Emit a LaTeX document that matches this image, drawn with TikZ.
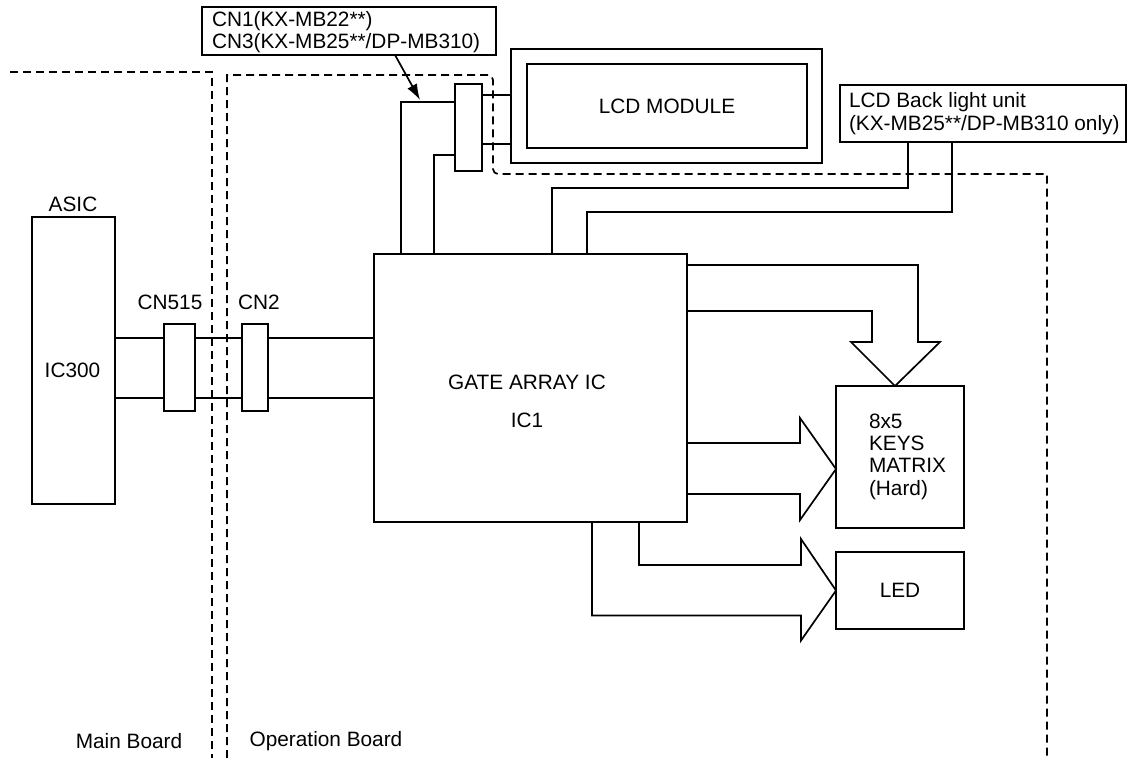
\documentclass[tikz,border=0pt]{standalone}
\usepackage{fontspec}
\setmainfont{Liberation Sans}
\usetikzlibrary{arrows.meta}
\begin{document}
\begin{tikzpicture}[x=1pt,y=-1pt,
  every node/.style={font=\fontsize{20.8}{22.3}\selectfont, inner sep=0pt, outer sep=0pt},
  box/.style={draw, line width=1.7pt, rectangle},
  wire/.style={line width=1.7pt},
  bnd/.style={line width=1.7pt, dash pattern=on 8pt off 5pt},
  lbl/.style={align=left, anchor=west}]
\useasboundingbox (0,0) rectangle (1128,758);

% board boundaries
\draw[bnd] (10,72) -- (212,72) -- (212,758);
\draw[bnd] (227,758) -- (227,75) -- (480,75) [rounded corners=5pt] -- (493,75) -- (493,174) -- (505,174) [sharp corners] -- (1047,174) -- (1047,758);

% boxes
\node[box, minimum width=83pt, minimum height=287pt] (asic) at (73.5,360.5) {};
\node (asiclbl) at (73,204) {ASIC};
\node (ic300) at (72.5,370) {IC300};
\node[box, minimum width=31pt, minimum height=87pt] (cn515) at (179.5,367.5) {};
\node[box, minimum width=26pt, minimum height=87pt] (cn2) at (255,367.5) {};
\node (cn515lbl) at (170,302) {CN515};
\node (cn2lbl) at (259,302) {CN2};
\node[box, minimum width=313pt, minimum height=268pt] (ga) at (530.5,388) {};
\node (galbl) at (527,382) {GATE ARRAY IC};
\node (ic1) at (527,420) {IC1};
\node[box, minimum width=27pt, minimum height=87pt] (cn3) at (468.5,127.5) {};
\node[box, minimum width=311pt, minimum height=114pt] (lcdout) at (666.5,106) {};
\node[box, minimum width=280pt, minimum height=84pt] (lcdin) at (667,106) {LCD MODULE};
\node[box, minimum width=286pt, minimum height=57pt] (bl) at (983,113.5) {};
\node[lbl] (bltxt) at (849,113.5) {LCD Back light unit\\(KX-MB25**/DP-MB310 only)};
\node[box, minimum width=294pt, minimum height=48pt] (cnlbl) at (349,31) {};
\node[lbl] (cntxt) at (212,32) {CN1(KX-MB22**)\\CN3(KX-MB25**/DP-MB310)};
\node[box, minimum width=128pt, minimum height=142pt] (keys) at (900,457) {};
\node[lbl] (keystxt) at (869,456.5) {8x5\\KEYS\\MATRIX\\(Hard)};
\node[box, minimum width=128pt, minimum height=77pt] (led) at (900,590.5) {LED};
\node (mainlbl) at (129,741) {Main Board};
\node (oplbl) at (326,741) {Operation Board};

% ASIC - CN515 - CN2 - gate array
\draw[wire] ([yshift=22.5pt]asic.east) -- ([yshift=29.5pt]cn515.west);
\draw[wire] ([yshift=-37.5pt]asic.east) -- ([yshift=-30.5pt]cn515.west);
\draw[wire] ([yshift=29.5pt]cn515.east) -- ([yshift=29.5pt]cn2.west);
\draw[wire] ([yshift=-30.5pt]cn515.east) -- ([yshift=-30.5pt]cn2.west);
\draw[wire] ([yshift=29.5pt]cn2.east) -- ([yshift=50pt]ga.west);
\draw[wire] ([yshift=-30.5pt]cn2.east) -- ([yshift=-10pt]ga.west);

% gate array - CN1/CN3 - LCD
\draw[wire] ([xshift=27pt]ga.north west) |- ([yshift=25.5pt]cn3.west);
\draw[wire] ([xshift=60pt]ga.north west) |- ([yshift=-27.5pt]cn3.west);
\draw[wire] ([yshift=32.5pt]cn3.east) -- ([yshift=11pt]lcdout.west);
\draw[wire] ([yshift=-16.5pt]cn3.east) -- ([yshift=-38pt]lcdout.west);
\coordinate (tipc) at (420,100);
\draw[wire, -{Latex[length=16pt,width=11pt]}] ([xshift=46pt]cnlbl.south) -- (tipc);

% back light
\draw[wire] ([xshift=-75pt]bl.south) -- ++(0,46) -| ([xshift=178pt]ga.north west);
\draw[wire] ([xshift=-31pt]bl.south) -- ++(0,70) -| ([xshift=213pt]ga.north west);

% wide arrows
\draw[wire] ([yshift=123pt]ga.east) -- ++(231,0) -- ++(0,77) -- ++(22,0) -- ([xshift=-5pt]keys.north) -- ++(-44,-44) -- ++(21,0) -- ++(0,-31) -- ([yshift=77pt]ga.east);
\draw[wire] ([yshift=-55pt]ga.east) -- ++(113,0) -- ++(0,-25) -- ([yshift=-12pt]keys.west) -- ++(-36,51) -- ++(0,-26) -- ([yshift=-106pt]ga.east);
\draw[wire] ([xshift=108.5pt]ga.south) -- ++(0,43) -- ++(162,0) -- ++(0,-26) -- (led.west) -- ++(-35,50) -- ++(0,-25) -- ++(-209,0) -- ([xshift=61.5pt]ga.south);
\end{tikzpicture}
\end{document}
